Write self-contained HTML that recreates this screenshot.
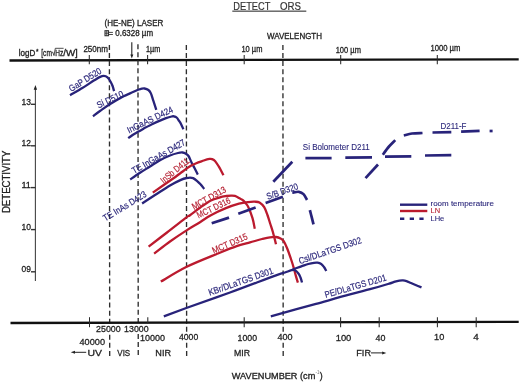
<!DOCTYPE html>
<html><head><meta charset="utf-8">
<style>
html,body{margin:0;padding:0;background:#fff;}
body{width:520px;height:383px;overflow:hidden;}
svg{display:block;will-change:transform;}
text{font-family:"Liberation Sans",sans-serif;fill:#222;stroke:#222;stroke-width:.3;}
.b{fill:#2a267a;stroke:#2a267a;stroke-width:.1;}
.r{fill:#b41e30;stroke:#b41e30;stroke-width:.1;}
</style></head><body>
<svg width="520" height="383" viewBox="0 0 520 383" xmlns="http://www.w3.org/2000/svg">
<!-- title -->
<text x="233.3" y="9.6" font-size="11" textLength="37" lengthAdjust="spacingAndGlyphs" style="stroke-width:.2;fill:#333;stroke:#333">DETECT</text>
<text x="280" y="9.6" font-size="11" textLength="21" lengthAdjust="spacingAndGlyphs" style="stroke-width:.2;fill:#333;stroke:#333">ORS</text>
<rect x="232.3" y="10.6" width="74" height="1.1" fill="#333"/>
<!-- laser -->
<text x="104.5" y="26.2" font-size="8.7" textLength="58.8" lengthAdjust="spacingAndGlyphs">(HE-NE) LASER</text>
<g stroke="#333" fill="none">
<rect x="105" y="30.7" width="3.5" height="5" stroke-width="1.1"/>
<path d="M106.75,30.7 V35.7 M105,33.2 H108.5" stroke-width="0.9"/>
<path d="M108.8,32.4 H112.9 M108.8,34.5 H112.9" stroke-width="0.9"/>
</g>
<text x="115.3" y="36.3" font-size="8.7" textLength="37.8" lengthAdjust="spacingAndGlyphs">0.6328 µm</text>
<text x="267" y="39" font-size="8.6" textLength="55" lengthAdjust="spacingAndGlyphs">WAVELENGTH</text>
<!-- top axis -->
<polygon points="9.5,59.35 518.7,58.2 518.7,60.5 9.5,61.65" fill="#111"/>
<g font-size="8.4">
<text x="18.7" y="55.6" textLength="16.6" lengthAdjust="spacingAndGlyphs">logD</text>
<text x="35.9" y="54.4" font-size="6.5">*</text>
<text x="41.3" y="55.7" textLength="10.6" lengthAdjust="spacingAndGlyphs">[cm</text>
<path d="M51.7,52.6 L52.7,52.1 L54,55.6 L55.3,48.3 L63.6,48.3" fill="none" stroke="#222" stroke-width="0.8"/>
<text x="55.2" y="55.7" textLength="8" lengthAdjust="spacingAndGlyphs">Hz</text>
<text x="63.2" y="55.7" textLength="14.6" lengthAdjust="spacingAndGlyphs">/W]</text>
</g>
<text x="83.4" y="51.8" font-size="8.6" textLength="24.6" lengthAdjust="spacingAndGlyphs">250nm</text>
<text x="146" y="51.5" font-size="8.6" textLength="14.3" lengthAdjust="spacingAndGlyphs">1µm</text>
<text x="241.4" y="51.6" font-size="8.6" textLength="21" lengthAdjust="spacingAndGlyphs">10 µm</text>
<text x="335.7" y="52.5" font-size="8.6" textLength="25.2" lengthAdjust="spacingAndGlyphs">100 µm</text>
<text x="430.4" y="51.4" font-size="8.6" textLength="30" lengthAdjust="spacingAndGlyphs">1000 µm</text>
<g stroke="#2a2a2a" stroke-width="1.05">
<line x1="89.3" y1="55" x2="89.3" y2="64.2"/>
<line x1="147.6" y1="55" x2="147.6" y2="64.2"/>
<line x1="244.2" y1="55" x2="244.2" y2="64.2"/>
<line x1="340.7" y1="55" x2="340.7" y2="64.2"/>
<line x1="437.3" y1="55" x2="437.3" y2="64.2"/>
</g>
<!-- laser arrow -->
<line x1="131.8" y1="42.3" x2="131.8" y2="56" stroke="#222" stroke-width="1.1"/>
<path d="M130.3,54.5 L133.3,54.5 L131.8,58.6 Z" fill="#222"/>
<!-- dashed verticals -->
<g stroke="#2e2e2e" stroke-width="1.35" stroke-dasharray="5 3.05">
<line x1="109.4" y1="45" x2="109.70" y2="356"/>
<line x1="137.95" y1="44.2" x2="138.25" y2="356"/>
<line x1="186.35" y1="45" x2="186.65" y2="356"/>
<line x1="282.9" y1="45" x2="283.20" y2="356"/>
</g>
<rect x="108.2" y="323.6" width="2.9" height="9.6" fill="#fff"/>
<rect x="136.8" y="323.6" width="2.9" height="9.6" fill="#fff"/>
<rect x="185" y="333.6" width="2.7" height="7.6" fill="#fff"/>
<rect x="281.55" y="333.6" width="2.7" height="7.6" fill="#fff"/>
<!-- bottom axis -->
<polygon points="10.5,321.85 518.7,320.7 518.7,323 10.5,324.15" fill="#111"/>
<g stroke="#2a2a2a" stroke-width="1.05">
<line x1="89.5" y1="317.2" x2="89.5" y2="327.2"/>
<line x1="147.8" y1="317.2" x2="147.8" y2="323.6"/>
<line x1="244.2" y1="317.2" x2="244.2" y2="327.2"/>
<line x1="340.6" y1="317.2" x2="340.6" y2="327.2"/>
<line x1="379.2" y1="317.2" x2="379.2" y2="327.2"/>
<line x1="437.4" y1="317.2" x2="437.4" y2="327.2"/>
<line x1="476.2" y1="317.2" x2="476.2" y2="327.2"/>
</g>
<g font-size="9.9">
<text x="96" y="332.0" textLength="24.7" lengthAdjust="spacingAndGlyphs">25000</text>
<text x="124.1" y="332.0" textLength="24.5" lengthAdjust="spacingAndGlyphs">13000</text>
<text x="79.5" y="344.9" textLength="25.5" lengthAdjust="spacingAndGlyphs">40000</text>
<text x="139.9" y="340.9" textLength="25.0" lengthAdjust="spacingAndGlyphs">10000</text>
<text x="179" y="339.9" textLength="19.2" lengthAdjust="spacingAndGlyphs">4000</text>
<text x="237.6" y="340.5" textLength="19.4" lengthAdjust="spacingAndGlyphs">1000</text>
<text x="277.5" y="339.9" textLength="15.1" lengthAdjust="spacingAndGlyphs">400</text>
<text x="335.7" y="340.9" textLength="15.6" lengthAdjust="spacingAndGlyphs">100</text>
<text x="375.6" y="340.9" textLength="9.9" lengthAdjust="spacingAndGlyphs">40</text>
<text x="434.1" y="340.0" textLength="10.2" lengthAdjust="spacingAndGlyphs">10</text>
<text x="473.3" y="340.0">4</text>
<text x="87.4" y="356.0" textLength="14.5" lengthAdjust="spacingAndGlyphs">UV</text>
<text x="117.3" y="356.0" textLength="12.9" lengthAdjust="spacingAndGlyphs">VIS</text>
<text x="155.3" y="355.6" textLength="15.7" lengthAdjust="spacingAndGlyphs">NIR</text>
<text x="234" y="356.0" textLength="16" lengthAdjust="spacingAndGlyphs">MIR</text>
<text x="356.3" y="355.6" textLength="14.7" lengthAdjust="spacingAndGlyphs">FIR</text>
</g>
<g font-size="8.8">
<text x="231.8" y="378.5" textLength="83.5" lengthAdjust="spacingAndGlyphs">WAVENUMBER (cm</text>
<text x="315.6" y="373.8" font-size="4.5" style="fill:#777;stroke:none">-1</text>
<text x="319.8" y="378.5">)</text>
</g>
<!-- UV arrow & FIR arrow -->
<line x1="74" y1="352.3" x2="86.2" y2="352.3" stroke="#222" stroke-width="1"/>
<path d="M70.7,352.3 L75,350.8 L75,353.8 Z" fill="#222"/>
<line x1="371" y1="352.9" x2="383" y2="352.9" stroke="#222" stroke-width="1"/>
<path d="M386.3,352.9 L382.2,351.4 L382.2,354.4 Z" fill="#222"/>
<!-- y axis -->
<line x1="35.4" y1="88" x2="35.4" y2="281" stroke="#444" stroke-width="1.1"/>
<path d="M35.4,85 L33.7,89.8 L37.1,89.8 Z" fill="#222"/>
<g font-size="9.6">
<text x="21.4" y="104.7" textLength="9.5" lengthAdjust="spacingAndGlyphs">13</text>
<text x="21.4" y="146.1" textLength="9.5" lengthAdjust="spacingAndGlyphs">12</text>
<text x="21.4" y="187.9" textLength="9.5" lengthAdjust="spacingAndGlyphs">11</text>
<text x="21.4" y="230.4" textLength="9.5" lengthAdjust="spacingAndGlyphs">10</text>
<text x="21.6" y="271.6" textLength="9.4" lengthAdjust="spacingAndGlyphs">09</text>
</g>
<g stroke="#333" stroke-width="1.4">
<line x1="31" y1="104.3" x2="35.5" y2="104.3"/>
<line x1="31" y1="145.8" x2="35.5" y2="145.8"/>
<line x1="31" y1="187.6" x2="35.5" y2="187.6"/>
<line x1="31" y1="229.6" x2="35.5" y2="229.6"/>
<line x1="31" y1="271.8" x2="35.5" y2="271.8"/>
</g>
<text transform="translate(9.5,213.1) rotate(-90)" font-size="10.1" textLength="62.5" lengthAdjust="spacingAndGlyphs">DETECTIVITY</text>
<path d="M70.0,95.3 C72.0,94.1 78.3,90.5 82.3,88.1 C86.3,85.6 90.9,82.4 93.8,80.6 C96.7,78.8 97.9,77.9 99.6,77.1 C101.3,76.3 102.5,75.8 103.8,75.8 C105.1,75.8 106.4,76.3 107.5,77.3 C108.6,78.3 109.8,80.2 110.6,81.7 C111.4,83.2 112.0,84.4 112.6,86.0 C113.2,87.6 113.8,90.3 114.1,91.2" fill="none" stroke="#28237a" stroke-width="2.3" stroke-linecap="butt" stroke-linejoin="round"/>
<path d="M93.0,116.3 C94.2,115.4 97.1,113.0 100.0,111.0 C102.9,109.0 106.3,106.5 110.2,104.1 C114.1,101.6 120.3,98.1 123.6,96.3 C126.9,94.5 127.7,94.5 130.0,93.4 C132.3,92.4 135.7,90.8 137.5,90.0 C139.3,89.2 139.8,89.2 141.0,88.9 C142.2,88.7 143.3,88.3 144.5,88.5 C145.7,88.7 147.3,89.2 148.4,90.0 C149.5,90.8 150.1,91.6 150.9,93.4 C151.7,95.2 152.5,98.2 153.4,100.9 C154.3,103.6 155.8,108.3 156.3,109.8" fill="none" stroke="#28237a" stroke-width="2.3" stroke-linecap="butt" stroke-linejoin="round"/>
<path d="M128.2,138.2 C129.0,137.6 131.4,135.9 133.0,134.8 C134.6,133.7 136.0,133.0 138.0,131.8 C140.0,130.6 142.7,129.1 145.0,127.8 C147.3,126.5 149.5,125.5 152.0,124.3 C154.5,123.1 157.7,121.6 160.0,120.6 C162.3,119.6 164.1,118.9 166.0,118.2 C167.9,117.5 170.4,116.8 171.7,116.5 C173.0,116.2 173.2,116.1 174.0,116.3 C174.8,116.5 175.8,116.8 176.6,117.5 C177.4,118.2 178.0,119.2 178.7,120.3 C179.4,121.4 180.2,122.5 181.0,124.0 C181.8,125.5 183.0,128.4 183.4,129.3" fill="none" stroke="#28237a" stroke-width="2.3" stroke-linecap="butt" stroke-linejoin="round"/>
<path d="M130.2,179.5 C131.8,178.4 136.7,175.0 140.0,172.8 C143.3,170.6 146.7,168.6 150.0,166.5 C153.3,164.4 156.7,162.0 160.0,160.2 C163.3,158.4 167.0,156.7 170.0,155.5 C173.0,154.3 175.9,153.5 178.0,153.0 C180.1,152.5 181.2,152.4 182.5,152.5 C183.8,152.6 185.0,153.2 186.0,153.8 C187.0,154.4 187.6,154.7 188.5,156.0 C189.4,157.3 190.3,159.9 191.3,161.9 C192.3,163.9 193.4,165.9 194.5,168.0 C195.6,170.1 197.2,173.5 197.8,174.6" fill="none" stroke="#28237a" stroke-width="2.3" stroke-linecap="butt" stroke-linejoin="round"/>
<path d="M142.1,203.5 C144.2,202.1 150.3,198.0 155.0,195.0 C159.7,192.0 165.6,188.0 170.0,185.4 C174.4,182.8 178.8,180.8 181.5,179.6 C184.2,178.4 185.1,178.4 186.5,178.1 C187.9,177.8 188.9,177.6 190.0,177.6 C191.1,177.6 191.9,177.6 193.1,178.1 C194.2,178.6 195.6,179.7 196.9,180.8 C198.2,181.9 199.6,183.2 200.8,184.6 C202.0,185.9 203.6,188.2 204.2,188.9" fill="none" stroke="#28237a" stroke-width="2.3" stroke-linecap="butt" stroke-linejoin="round"/>
<path d="M152.8,192.6 C156.2,190.2 168.6,181.7 173.1,178.5 C177.6,175.3 176.9,175.7 180.0,173.5 C183.1,171.3 187.7,167.5 191.7,165.3 C195.7,163.1 200.8,161.6 203.8,160.5 C206.8,159.4 208.1,159.1 209.5,158.9 C210.9,158.7 211.1,158.7 212.0,159.1 C212.9,159.5 214.1,160.0 215.2,161.2 C216.3,162.4 217.7,164.8 218.7,166.4 C219.7,168.0 220.2,169.0 221.0,170.5 C221.8,172.0 223.0,174.5 223.4,175.3" fill="none" stroke="#bb1a2e" stroke-width="2.3" stroke-linecap="butt" stroke-linejoin="round"/>
<path d="M148.6,246.7 C151.7,244.3 160.7,237.3 167.0,232.5 C173.3,227.7 182.4,220.5 186.2,217.6 C190.0,214.7 187.7,216.8 190.0,215.2 C192.3,213.6 196.5,210.2 200.0,207.8 C203.5,205.4 207.6,202.3 210.9,200.6 C214.2,198.8 217.4,198.1 220.0,197.3 C222.6,196.5 224.7,196.3 226.5,196.0 C228.3,195.7 229.6,195.6 231.0,195.6 C232.4,195.6 233.6,195.5 234.9,195.9 C236.2,196.3 237.8,197.3 239.0,198.0 C240.2,198.7 241.2,199.0 242.3,199.8 C243.4,200.6 244.5,201.7 245.5,203.0 C246.5,204.3 247.3,204.9 248.5,207.4 C249.7,209.9 251.4,214.6 252.5,218.2 C253.6,221.8 254.4,227.0 254.8,228.8" fill="none" stroke="#bb1a2e" stroke-width="2.3" stroke-linecap="butt" stroke-linejoin="round"/>
<path d="M154.1,253.6 C156.8,251.6 164.7,245.3 170.0,241.5 C175.3,237.7 181.2,233.8 186.2,230.6 C191.2,227.4 195.9,224.8 200.0,222.2 C204.1,219.6 206.5,217.6 210.9,215.2 C215.3,212.8 221.8,209.8 226.5,207.9 C231.2,206.0 235.4,204.7 239.0,203.7 C242.6,202.7 245.4,202.4 248.0,202.1 C250.6,201.8 252.6,201.6 254.5,201.7 C256.4,201.8 257.9,201.5 259.5,202.4 C261.1,203.3 262.8,205.0 264.2,207.2 C265.6,209.4 266.6,212.6 267.6,215.5 C268.7,218.4 269.6,221.8 270.5,224.5 C271.4,227.2 271.9,228.5 272.8,231.8 C273.7,235.1 275.5,242.2 276.0,244.3" fill="none" stroke="#bb1a2e" stroke-width="2.3" stroke-linecap="butt" stroke-linejoin="round"/>
<path d="M160.8,281.6 C165.0,279.2 176.7,271.7 186.2,267.0 C195.7,262.3 209.7,256.9 218.0,253.5 C226.3,250.1 230.7,248.2 236.0,246.4 C241.3,244.6 245.7,243.6 250.0,242.4 C254.3,241.2 258.7,239.8 262.0,239.0 C265.3,238.2 267.7,237.6 270.0,237.3 C272.3,237.0 274.2,236.8 276.0,237.0 C277.8,237.2 279.2,237.7 280.5,238.4 C281.8,239.1 282.6,239.5 283.7,241.2 C284.8,242.9 286.0,245.6 287.2,248.5 C288.4,251.4 289.7,255.3 290.8,258.5 C291.9,261.7 292.9,264.9 293.7,267.8 C294.5,270.7 295.1,273.1 295.8,275.6 C296.5,278.1 297.5,281.4 297.9,282.6" fill="none" stroke="#bb1a2e" stroke-width="2.3" stroke-linecap="butt" stroke-linejoin="round"/>
<path d="M163.8,316.3 C167.6,314.9 175.3,312.0 186.3,308.0 C197.3,304.0 215.1,297.9 230.0,292.5 C244.9,287.1 266.8,278.6 276.0,275.3 C285.2,272.0 282.4,273.4 285.0,272.5 C287.6,271.6 289.8,270.6 291.5,270.2 C293.2,269.8 293.8,269.7 295.0,270.3 C296.2,270.9 297.7,272.5 298.6,273.7 C299.5,274.9 299.9,276.0 300.5,277.5 C301.1,279.0 301.8,281.7 302.0,282.5" fill="none" stroke="#28237a" stroke-width="2.3" stroke-linecap="butt" stroke-linejoin="round"/>
<path d="M291.5,270.2 C292.1,269.9 293.8,269.1 295.4,268.5 C297.0,267.9 299.1,267.1 301.3,266.3 C303.5,265.6 306.2,264.6 308.3,264.0 C310.4,263.4 312.5,263.0 314.0,262.8 C315.5,262.6 316.3,262.5 317.5,262.7 C318.7,262.9 320.1,263.3 321.2,264.0 C322.3,264.7 323.1,265.8 324.0,267.0 C324.9,268.2 325.9,270.3 326.3,271.0" fill="none" stroke="#28237a" stroke-width="2.3" stroke-linecap="butt" stroke-linejoin="round"/>
<path d="M270.8,316.3 C278.3,314.2 302.8,307.5 316.0,303.9 C329.2,300.2 341.0,296.8 350.0,294.4 C359.0,291.9 363.7,290.9 370.0,289.2 C376.3,287.5 383.8,285.3 388.0,284.0 C392.2,282.7 393.1,282.2 395.0,281.6 C396.9,281.0 398.2,280.8 399.5,280.6 C400.8,280.4 401.8,280.3 403.0,280.4 C404.2,280.5 405.2,280.7 406.5,281.1 C407.8,281.5 408.5,281.9 411.0,283.0 C413.5,284.1 419.8,286.7 421.5,287.4" fill="none" stroke="#28237a" stroke-width="2.3" stroke-linecap="butt" stroke-linejoin="round"/>
<path d="M211.7,223.2 L229.0,217.6" fill="none" stroke="#28237a" stroke-width="2.7"/>
<path d="M238.3,213.8 L255.6,207.4" fill="none" stroke="#28237a" stroke-width="2.7"/>
<path d="M265.6,203.0 L282.9,196.8" fill="none" stroke="#28237a" stroke-width="2.7"/>
<path d="M292.3,192.6 C293.4,192.5 296.9,191.6 298.8,191.8 C300.7,192.1 302.1,192.7 303.5,194.1 C304.9,195.5 306.4,199.0 307.0,200.0" fill="none" stroke="#28237a" stroke-width="2.7"/>
<path d="M309.9,210.2 L313.5,224.3" fill="none" stroke="#28237a" stroke-width="2.7"/>
<path d="M273.3,181.7 L292.3,161.8" fill="none" stroke="#28237a" stroke-width="2.7"/>
<path d="M305.4,158.1 L331.6,158.1" fill="none" stroke="#28237a" stroke-width="2.7"/>
<path d="M345.3,157.6 L372.0,157.3" fill="none" stroke="#28237a" stroke-width="2.7"/>
<path d="M385.0,156.6 L411.3,156.4" fill="none" stroke="#28237a" stroke-width="2.7"/>
<path d="M425.0,155.5 L451.3,155.2" fill="none" stroke="#28237a" stroke-width="2.7"/>
<path d="M365.5,178.2 L378.0,164.5" fill="none" stroke="#28237a" stroke-width="2.7"/>
<path d="M382.8,154.8 C383.8,153.4 386.9,148.9 389.0,146.5 C391.1,144.1 394.2,141.2 395.2,140.1" fill="none" stroke="#28237a" stroke-width="2.7"/>
<path d="M403.8,135.5 C405.2,135.2 408.9,133.9 412.0,133.5 C415.1,133.1 420.8,133.1 422.5,133.0" fill="none" stroke="#28237a" stroke-width="2.7"/>
<path d="M432.5,132.5 L451.3,132.2" fill="none" stroke="#28237a" stroke-width="2.7"/>
<path d="M461.1,131.6 L479.6,130.8" fill="none" stroke="#28237a" stroke-width="2.7"/>
<path d="M489.6,131.0 L492.6,131.0" fill="none" stroke="#28237a" stroke-width="2.7"/>
<text class="b" style="stroke-width:.18" font-size="9.2" transform="translate(71.3,91.9) rotate(-31.82)" textLength="36.37" lengthAdjust="spacingAndGlyphs">GaP D520</text>
<text class="b" style="stroke-width:.18" font-size="9.2" transform="translate(98.5,108.4) rotate(-25.18)" textLength="28.65" lengthAdjust="spacingAndGlyphs">Si D510</text>
<text class="b" style="stroke-width:.18" font-size="9.2" transform="translate(128.9,133.4) rotate(-25.81)" textLength="49.86" lengthAdjust="spacingAndGlyphs">InGaAS D424</text>
<text class="b" style="stroke-width:.18" font-size="9.2" transform="translate(134.0,174.0) rotate(-29.68)" textLength="60.03" lengthAdjust="spacingAndGlyphs">TE InGaAs D427</text>
<text class="b" style="stroke-width:.18" font-size="9.2" transform="translate(105.3,221.4) rotate(-31.11)" textLength="48.98" lengthAdjust="spacingAndGlyphs">TE InAs D423</text>
<text class="r" style="stroke-width:.18" font-size="9.2" transform="translate(163.6,183.7) rotate(-39.41)" textLength="34.12" lengthAdjust="spacingAndGlyphs">InSb D411</text>
<text class="r" style="stroke-width:.18" font-size="9.2" transform="translate(193.9,209.9) rotate(-29.01)" textLength="37.71" lengthAdjust="spacingAndGlyphs">MCT D313</text>
<text class="r" style="stroke-width:.18" font-size="9.2" transform="translate(198.6,218.5) rotate(-25.85)" textLength="36.33" lengthAdjust="spacingAndGlyphs">MCT D316</text>
<text class="r" style="stroke-width:.18" font-size="9.2" transform="translate(213.7,253.8) rotate(-23.65)" textLength="37.84" lengthAdjust="spacingAndGlyphs">MCT D315</text>
<text class="b" style="stroke-width:.18" font-size="9.2" transform="translate(267.8,199.8) rotate(-19.48)" textLength="32.85" lengthAdjust="spacingAndGlyphs">S/B D320</text>
<text class="b" style="stroke-width:.18" font-size="9.2" transform="translate(209.7,295.7) rotate(-19.3)" textLength="68.12" lengthAdjust="spacingAndGlyphs">KBr/DLaTGS D301</text>
<text class="b" style="stroke-width:.18" font-size="9.2" transform="translate(299.9,264.2) rotate(-19.0)" textLength="65.9" lengthAdjust="spacingAndGlyphs">Csl/DLaTGS D302</text>
<text class="b" style="stroke-width:.18" font-size="9.2" transform="translate(325.7,297.9) rotate(-16.0)" textLength="63.75" lengthAdjust="spacingAndGlyphs">PE/DLaTGS D201</text>
<text class="b" font-size="8.4" x="302.8" y="149.6" textLength="67" lengthAdjust="spacingAndGlyphs">Si Bolometer D211</text>
<text class="b" font-size="8.6" x="440.5" y="128.6" textLength="26" lengthAdjust="spacingAndGlyphs">D211-F</text>
<!-- legend -->
<line x1="400" y1="204.7" x2="427.3" y2="204.7" stroke="#28237a" stroke-width="2.4"/>
<line x1="400" y1="211" x2="427.3" y2="211" stroke="#bb1a2e" stroke-width="2.4"/>
<line x1="400" y1="218.8" x2="423.6" y2="218.8" stroke="#28237a" stroke-width="2.4" stroke-dasharray="4.3 5.4"/>
<g font-size="7.5">
<text class="b" x="430.5" y="206.2" textLength="63.4" lengthAdjust="spacingAndGlyphs">room temperature</text>
<text class="r" x="430.5" y="213.2">LN</text>
<text class="b" x="430.5" y="220.6">LHe</text>
</g>
</svg>
</body></html>
